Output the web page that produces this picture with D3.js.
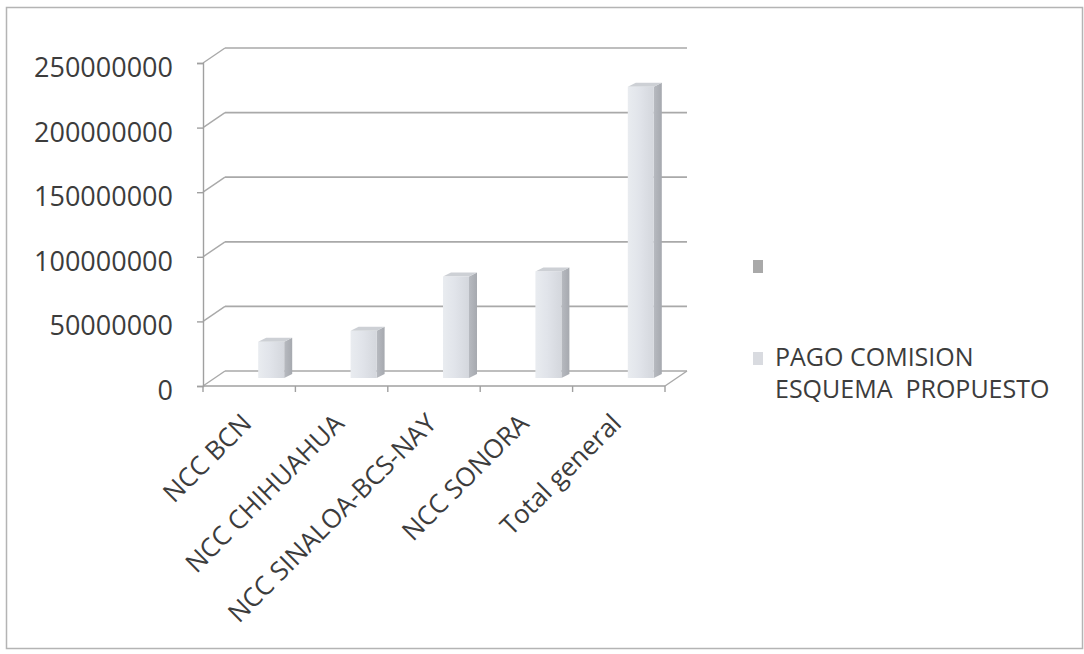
<!DOCTYPE html>
<html>
<head>
<meta charset="utf-8">
<script src="https://cdn.jsdelivr.net/npm/d3@7"></script>
<style>
  html, body { margin: 0; padding: 0; background: #ffffff; }
  svg { display: block; }
  text { font-family: "Open Sans", "Noto Sans", sans-serif; fill: #3c3c3c; }
</style>
</head>
<body>
<svg id="chart" width="1084" height="654"></svg>
<script>
// Categories along the floor of the 3D column chart
const categories = ["NCC BCN", "NCC CHIHUAHUA", "NCC SINALOA-BCS-NAY", "NCC SONORA", "Total general"];
// Series: PAGO COMISION ESQUEMA PROPUESTO
const pagoComision = [28000000, 36500000, 78500000, 82500000, 225500000];
// Value axis ticks
const yTicks = [0, 50000000, 100000000, 150000000, 200000000, 250000000];
// Legend entries (the first series has no name), one array of lines per entry
const legendLabels = [[""], ["PAGO COMISION", "ESQUEMA  PROPUESTO"]];
const legendColors = ["#a9a9a9", "#d9dbe0"];

const svg = d3.select("#chart");

// Outer chart frame
svg.append("rect")
  .attr("x", 6.5).attr("y", 7.5).attr("width", 1076).attr("height", 641)
  .attr("fill", "#ffffff").attr("stroke", "#b4b4b4").attr("stroke-width", 1.5);

// Scales (front plane of the plot)
const y = d3.scaleLinear().domain([0, 250000000]).range([386, 63]);
const x = d3.scaleBand().domain(categories).range([203, 665]);

// Oblique depth of the plot box and of each column
const depth = { dx: 22, dy: -15 };
const colDepth = { dx: 8, dy: -4 };
const colWidth = 26;
const colLift = 8;          // columns stand inside the floor, slightly behind the front edge

const gridColor = "#a9a9a9";
const g = svg.append("g");

// Back wall gridlines
g.selectAll("line.back").data(yTicks).join("line")
  .attr("class", "back")
  .attr("x1", 203 + depth.dx).attr("x2", 665 + depth.dx)
  .attr("y1", d => y(d) + depth.dy).attr("y2", d => y(d) + depth.dy)
  .attr("stroke", gridColor).attr("stroke-width", 1.7);

// Side wall gridlines (from the value axis back to the wall)
g.selectAll("line.side").data(yTicks).join("line")
  .attr("class", "side")
  .attr("x1", 203).attr("x2", 203 + depth.dx)
  .attr("y1", d => y(d)).attr("y2", d => y(d) + depth.dy)
  .attr("stroke", gridColor).attr("stroke-width", 1.4);

// Floor right edge
g.append("line")
  .attr("x1", 665).attr("y1", y(0)).attr("x2", 665 + depth.dx).attr("y2", y(0) + depth.dy)
  .attr("stroke", gridColor).attr("stroke-width", 1.4);

// Value axis (front)
const yAxis = d3.axisLeft(y).tickValues(yTicks).tickSize(6).tickPadding(24)
  .tickFormat(d3.format("d"));
const ya = g.append("g").attr("transform", "translate(203,0)").call(yAxis);
ya.select(".domain").attr("stroke", "#a0a0a0").attr("stroke-width", 1.4);
ya.selectAll(".tick line").attr("stroke", "#a0a0a0").attr("stroke-width", 1.4);
ya.selectAll(".tick text")
  .attr("font-size", 27).attr("dy", "0.5em")
  .style("font-family", "'Open Sans', sans-serif").style("fill", "#3c3c3c");

// Category axis front edge and ticks at band boundaries
g.append("line")
  .attr("x1", 203).attr("x2", 665).attr("y1", y(0)).attr("y2", y(0))
  .attr("stroke", "#a0a0a0").attr("stroke-width", 1.4);
const bounds = categories.map(c => x(c)).concat([x.range()[1]]);
g.selectAll("line.ctick").data(bounds).join("line")
  .attr("class", "ctick")
  .attr("x1", d => d).attr("x2", d => d)
  .attr("y1", y(0)).attr("y2", y(0) + 6)
  .attr("stroke", "#a0a0a0").attr("stroke-width", 1.4);

// Column shading
const defs = svg.append("defs");
const grad = defs.append("linearGradient").attr("id", "front").attr("x1", 0).attr("x2", 1).attr("y1", 0).attr("y2", 0);
grad.append("stop").attr("offset", "0%").attr("stop-color", "#e9ecf0");
grad.append("stop").attr("offset", "45%").attr("stop-color", "#e1e4ea");
grad.append("stop").attr("offset", "100%").attr("stop-color", "#d4d7dd");
const sideGrad = defs.append("linearGradient").attr("id", "side").attr("x1", 0).attr("x2", 1).attr("y1", 0).attr("y2", 0);
sideGrad.append("stop").attr("offset", "0%").attr("stop-color", "#b7bac0");
sideGrad.append("stop").attr("offset", "100%").attr("stop-color", "#a6a9af");

const cols = g.selectAll("g.col").data(categories.map((c, i) => ({ c, v: pagoComision[i] }))).join("g")
  .attr("class", "col");

const colLeft = d => x(d.c) + x.bandwidth() / 2 + depth.dx - colWidth / 2;
const colBottom = () => y(0) - colLift;
const colTop = d => y(d.v) - colLift;

// side face
cols.append("polygon")
  .attr("points", d => {
    const r = colLeft(d) + colWidth;
    return [[r, colTop(d)], [r + colDepth.dx, colTop(d) + colDepth.dy],
            [r + colDepth.dx, colBottom() + colDepth.dy], [r, colBottom()]].join(" ");
  })
  .attr("fill", "url(#side)");
// top face
cols.append("polygon")
  .attr("points", d => {
    const l = colLeft(d), r = l + colWidth, t = colTop(d);
    return [[l, t], [l + colDepth.dx, t + colDepth.dy], [r + colDepth.dx, t + colDepth.dy], [r, t]].join(" ");
  })
  .attr("fill", "#cdd0d5");
// front face
cols.append("rect")
  .attr("x", d => colLeft(d)).attr("y", d => colTop(d))
  .attr("width", colWidth).attr("height", d => colBottom() - colTop(d))
  .attr("fill", "url(#front)");

// Category labels, rotated 45 degrees
g.selectAll("text.cat").data(categories).join("text")
  .attr("class", "cat")
  .attr("font-size", 26)
  .attr("text-anchor", "end")
  .attr("transform", d => `translate(${x(d) + x.bandwidth() / 2 + 4},${y(0) + 39}) rotate(-45)`)
  .text(d => d);

// Legend
const lg = svg.append("g");
const legendY = [266, 358];
legendLabels.forEach((lines, i) => {
  lg.append("rect")
    .attr("x", 753).attr("y", legendY[i] - 6).attr("width", 10).attr("height", 13)
    .attr("fill", legendColors[i]);
  lines.forEach((ln, k) => {
    lg.append("text")
      .attr("font-size", 25)
      .attr("x", 775).attr("y", legendY[i] + 8 + k * 32)
      .style("white-space", "pre")
      .text(ln);
  });
});
</script>
</body>
</html>
